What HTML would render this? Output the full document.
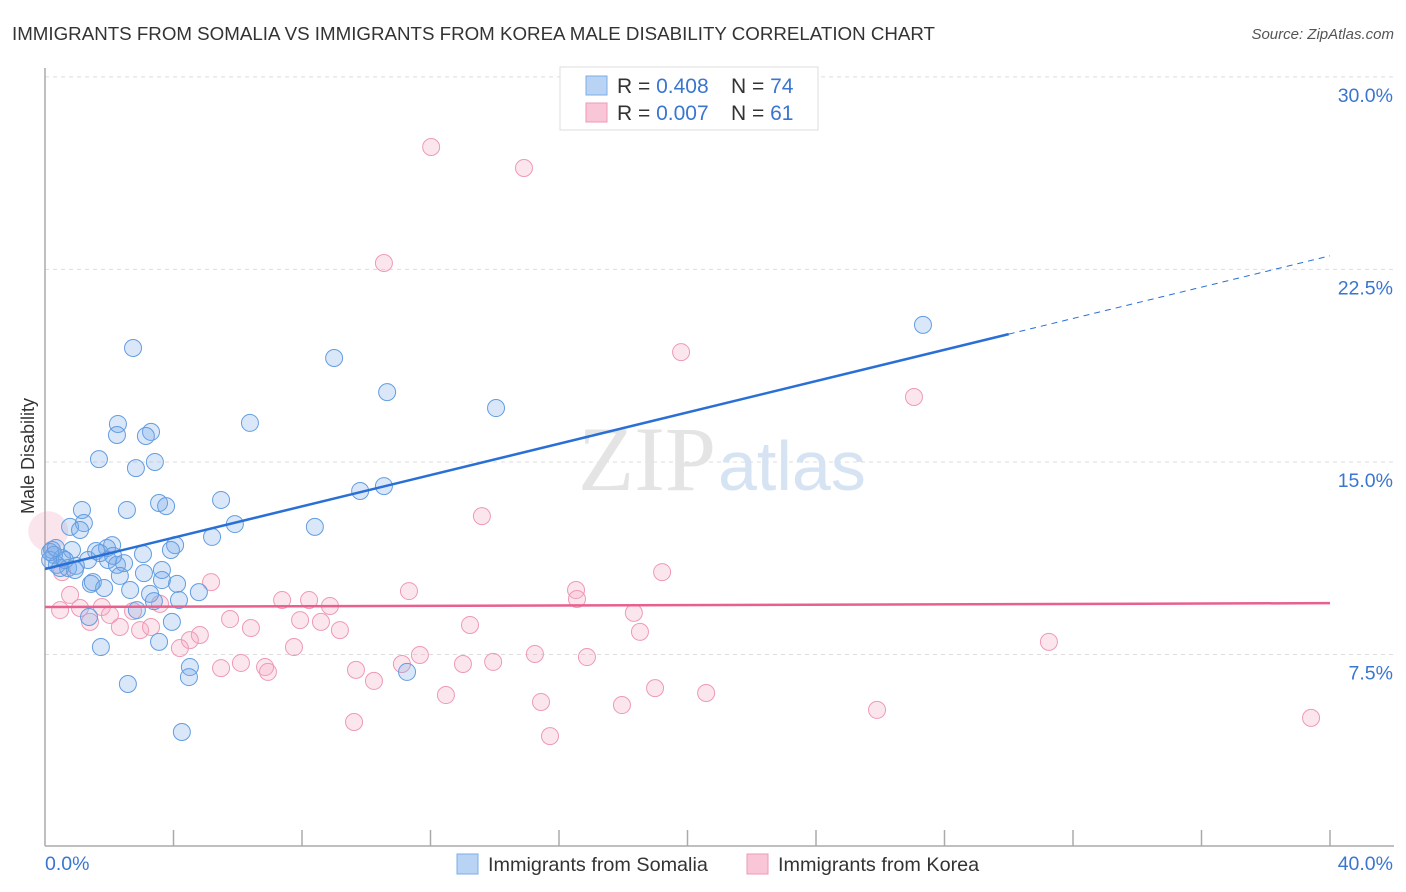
<!DOCTYPE html>
<html><head><meta charset="utf-8"><style>
body{margin:0;background:#fff;font-family:"Liberation Sans",sans-serif;}
svg{display:block}
</style></head><body>
<svg width="1406" height="892" id="c">
<text x="12" y="40" font-size="18" fill="#333" textLength="923" lengthAdjust="spacingAndGlyphs">IMMIGRANTS FROM SOMALIA VS IMMIGRANTS FROM KOREA MALE DISABILITY CORRELATION CHART</text>
<text x="1394" y="39" font-size="15" fill="#555" font-style="italic" text-anchor="end">Source: ZipAtlas.com</text>
<text x="34" y="456" font-size="18" fill="#333" text-anchor="middle" transform="rotate(-90 34 456)">Male Disability</text>
<g id="grid"></g>
<text x="716" y="490" font-size="92" fill="#e4e4e4" text-anchor="end" font-family="Liberation Serif,serif">ZIP</text>
<text x="718" y="490" font-size="70" fill="#d6e3f3">atlas</text>
<g id="marks"></g>
<g>
<rect x="560" y="67" width="258" height="63" fill="#fff" stroke="#ddd"/>
<rect x="586" y="76" width="21" height="19" fill="#b9d3f5" stroke="#7aaee8"/>
<rect x="586" y="103" width="21" height="19" fill="#f8c6d6" stroke="#ee9ab5"/>
<text x="617" y="93" font-size="21" fill="#333">R = <tspan fill="#3a76d0">0.408</tspan></text>
<text x="731" y="93" font-size="21" fill="#333">N = <tspan fill="#3a76d0">74</tspan></text>
<text x="617" y="120" font-size="21" fill="#333">R = <tspan fill="#3a76d0">0.007</tspan></text>
<text x="731" y="120" font-size="21" fill="#333">N = <tspan fill="#3a76d0"> 61</tspan></text>
</g>
<g>
<rect x="457" y="854" width="21" height="20" fill="#b9d3f5" stroke="#7aaee8"/>
<text x="488" y="871" font-size="19.8" fill="#333">Immigrants from Somalia</text>
<rect x="747" y="854" width="21" height="20" fill="#f8c6d6" stroke="#ee9ab5"/>
<text x="778" y="871" font-size="19.8" fill="#333">Immigrants from Korea</text>
</g>
</svg>
<script>
const yTicks=[7.5,15,22.5,30];
const yTickLabels=["7.5%","15.0%","22.5%","30.0%"];
const xTickLabels=["0.0%","40.0%"];
const somaliaX=[27.33,9.00,10.65,14.04,2.74,6.38,2.27,2.24,3.30,3.14,1.68,3.42,2.83,10.55,9.81,5.48,3.55,3.77,2.55,1.15,1.21,0.78,1.09,5.91,8.40,5.20,4.05,3.92,2.09,1.93,1.59,0.84,0.22,0.28,0.53,1.34,3.05,1.96,2.24,2.46,0.37,0.72,0.96,0.16,3.64,3.08,2.33,3.64,4.11,1.43,1.49,1.84,2.65,4.79,3.27,4.17,3.39,2.86,1.37,3.95,3.55,1.74,4.51,4.48,11.27,2.58,4.26,0.47,0.62,1.71,2.12,0.93,0.16,0.34];
const somaliaY=[20.34,19.05,17.72,17.10,19.44,16.52,16.48,16.05,16.17,16.01,15.11,15.00,14.76,14.06,13.87,13.52,13.40,13.28,13.13,13.13,12.62,12.47,12.35,12.58,12.47,12.08,11.76,11.57,11.76,11.65,11.53,11.57,11.57,11.38,11.26,11.18,11.41,11.18,10.99,11.06,10.99,10.87,10.95,11.18,10.79,10.67,10.56,10.40,10.25,10.25,10.32,10.09,10.01,9.93,9.86,9.62,9.58,9.23,8.96,8.77,7.99,7.79,7.01,6.62,6.82,6.35,4.48,10.87,11.18,11.45,11.34,10.79,11.49,11.65];
const koreaX=[12.02,14.91,10.55,19.80,27.05,13.60,19.21,5.17,16.53,11.33,16.56,0.78,7.38,8.22,8.87,1.77,1.09,2.74,2.02,3.58,18.33,5.76,7.94,8.59,1.40,13.23,2.33,6.41,9.18,2.96,3.30,18.52,4.82,4.51,4.20,7.75,31.25,11.67,15.25,16.87,13.95,13.01,11.11,6.10,6.85,6.94,9.68,5.48,10.24,18.99,20.58,12.48,15.44,17.96,25.90,9.62,15.72,39.41,0.47,0.53,0.10];
const koreaY=[27.27,26.45,22.75,19.28,17.53,12.89,10.71,10.32,10.01,9.97,9.66,9.82,9.62,9.62,9.39,9.35,9.31,9.19,9.04,9.47,9.12,8.88,8.84,8.77,8.77,8.65,8.57,8.53,8.45,8.45,8.57,8.38,8.26,8.06,7.75,7.79,7.99,7.48,7.52,7.40,7.21,7.13,7.13,7.17,7.01,6.82,6.90,6.97,6.47,6.19,6.00,5.92,5.65,5.53,5.34,4.87,4.32,5.03,9.23,10.71,12.30];
const somaliaTrend=[10.83,19.98,23.03];
const somaliaTrendX=[0,30,40];
const koreaTrend=[9.35,9.50];
const koreaTrendX=[0,40];
const X=v=>45+v*32.125, Y=v=>847-v*25.67;
const NS="http://www.w3.org/2000/svg";
function mk(t,a,p){const e=document.createElementNS(NS,t);for(const k in a)e.setAttribute(k,a[k]);p.appendChild(e);return e;}
const g=document.getElementById('grid'), m=document.getElementById('marks');
yTicks.forEach((t,i)=>{
 const l=mk('line',{x1:45,x2:1394,y1:Y(t),y2:Y(t),stroke:'#ddd','stroke-dasharray':'4 4'},g);
 
 
 const tx=mk('text',{x:1393,y:Y(t)+25,'font-size':19.5,fill:'#3a76d0','text-anchor':'end'},g);
 tx.textContent=yTickLabels[i];
 
 
});
const ax=mk('line',{x1:45,x2:45,y1:68,y2:846,stroke:'#aaa','stroke-width':1.5},g);


const bx=mk('line',{x1:45,x2:1394,y1:846,y2:846,stroke:'#aaa','stroke-width':1.5},g);


for(let i=1;i<=10;i++){const t=mk('line',{x1:X(i*4),x2:X(i*4),y1:830,y2:846,stroke:'#aaa','stroke-width':1.5},g);
 
 }
[[0,45,'start'],[40,1393,'end']].forEach((d,i)=>{const t=mk('text',{x:d[1],y:870,'font-size':19.5,fill:'#3a76d0','text-anchor':d[2]},g);t.textContent=xTickLabels[i];
 
 });
koreaX.forEach((x,i)=>{const big=i===koreaX.length-1;
 const c=mk('circle',{cx:X(x),cy:Y(koreaY[i]),r:big?20:8.5,fill:big?'rgba(240,150,180,0.25)':'rgba(245,165,195,0.28)',stroke:big?'none':'#ee9ab5','stroke-width':1},m);
 
 });
somaliaX.forEach((x,i)=>{const c=mk('circle',{cx:X(x),cy:Y(somaliaY[i]),r:8.5,fill:'rgba(120,170,235,0.28)',stroke:'#639de0','stroke-width':1},m);
 
 });
const t1=mk('line',{x1:X(somaliaTrendX[0]),y1:Y(somaliaTrend[0]),x2:X(somaliaTrendX[1]),y2:Y(somaliaTrend[1]),stroke:'#2a6fd6','stroke-width':2.5},m);


const t2=mk('line',{x1:X(somaliaTrendX[1]),y1:Y(somaliaTrend[1]),x2:X(somaliaTrendX[2]),y2:Y(somaliaTrend[2]),stroke:'#2a6fd6','stroke-width':1,'stroke-dasharray':'6 5'},m);


const t3=mk('line',{x1:X(koreaTrendX[0]),y1:Y(koreaTrend[0]),x2:X(koreaTrendX[1]),y2:Y(koreaTrend[1]),stroke:'#e8608e','stroke-width':2.5},m);


</script>
</body></html>
